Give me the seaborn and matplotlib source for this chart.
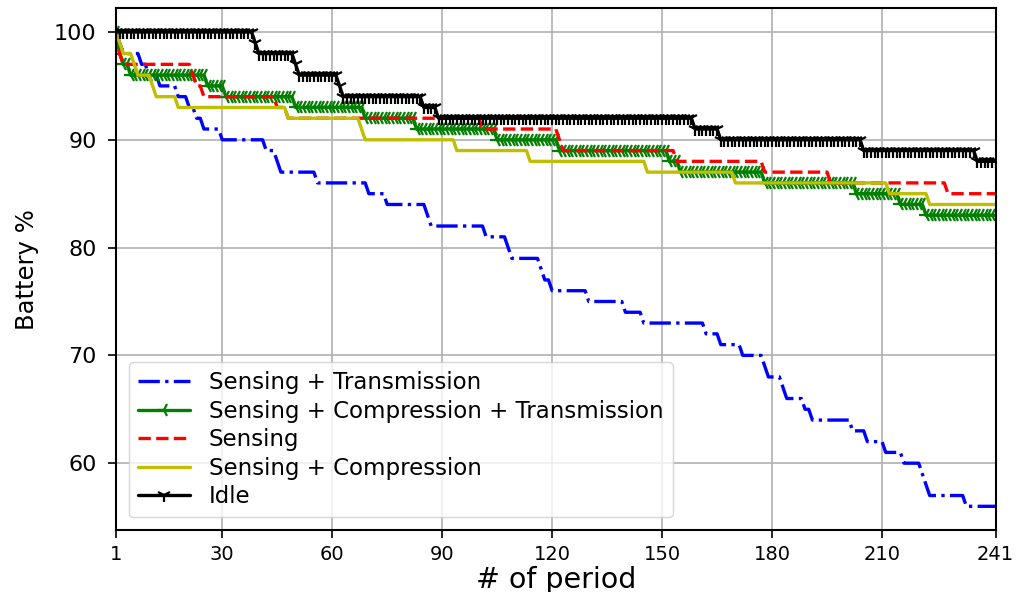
import numpy as np
import pandas as pd
import matplotlib
matplotlib.use("Agg")
import matplotlib.pyplot as plt
import seaborn as sns

# Battery level per period, stored as (level, last period at that level) runs
periods = np.arange(1, 242)

tx_levels = [100, 99, 98, 97, 96, 95, 94, 93, 92, 91, 90, 89, 88, 87, 86, 85, 84, 83, 82, 81,
             80, 79, 78, 77, 76, 75, 74, 73, 72, 71, 70, 69, 68, 67, 66, 65, 64, 63, 62, 61,
             60, 59, 58, 57, 56]
tx_ends = [1, 2, 7, 9, 12, 17, 20, 22, 24, 29, 41, 44, 45, 55, 69, 74, 85, 86, 101, 107,
           108, 116, 117, 119, 129, 139, 144, 161, 165, 171, 177, 178, 182, 183, 188, 190, 201, 205, 210, 215,
           220, 221, 222, 232, 241]

cmp_tx_levels = [100, 98, 97, 96, 95, 94, 93, 92, 91, 90, 89, 88, 87, 86, 85, 84, 83]
cmp_tx_ends = [1, 2, 4, 25, 30, 49, 68, 82, 104, 121, 151, 154, 177, 202, 214, 221, 241]

sense_levels = [100, 98, 97, 96, 95, 94, 93, 92, 91, 90, 89, 88, 87, 86, 85]
sense_ends = [1, 2, 21, 22, 24, 44, 47, 100, 121, 122, 153, 177, 195, 227, 241]

cmp_levels = [100, 99, 98, 97, 96, 95, 94, 93, 92, 91, 90, 89, 88, 87, 86, 85, 84]
cmp_ends = [1, 2, 5, 6, 10, 11, 17, 47, 67, 68, 93, 113, 145, 169, 211, 222, 241]

idle_levels = [100, 99, 98, 97, 96, 95, 94, 93, 92, 91, 90, 89, 88]
idle_ends = [38, 39, 49, 50, 61, 62, 84, 88, 158, 165, 204, 235, 241]

series_names = ["Sensing + Transmission",
                "Sensing + Compression + Transmission",
                "Sensing",
                "Sensing + Compression",
                "Idle"]
x_ticks = [1, 30, 60, 90, 120, 150, 180, 210, 241]
y_ticks = [60, 70, 80, 90, 100]


def expand(levels, ends):
    counts = np.diff(np.concatenate([[0], ends]))
    return np.repeat(levels, counts)


runs = [(tx_levels, tx_ends), (cmp_tx_levels, cmp_tx_ends), (sense_levels, sense_ends),
        (cmp_levels, cmp_ends), (idle_levels, idle_ends)]

styles = [
    dict(color="#0000ff", linestyle="-."),
    dict(color="#008000", linestyle="-", marker="3", markersize=10, markeredgewidth=1.6,
         markeredgecolor="#008000", markerfacecolor="#008000"),
    dict(color="#ff0000", linestyle="--"),
    dict(color="#bfbf00", linestyle="-"),
    dict(color="#000000", linestyle="-", marker="1", markersize=10, markeredgewidth=1.6,
         markeredgecolor="#000000", markerfacecolor="#000000"),
]

sns.set_theme(style="ticks")
plt.rcParams["font.family"] = ["DejaVu Sans"]
plt.rcParams["text.color"] = "black"
plt.rcParams["axes.labelcolor"] = "black"
plt.rcParams["xtick.color"] = "black"
plt.rcParams["ytick.color"] = "black"

fig = plt.figure(figsize=(10.19, 5.92), dpi=100)
ax = fig.add_axes([0.1138, 0.1047, 0.8633, 0.8813])

for name, (lv, en), st in zip(series_names, runs, styles):
    df = pd.DataFrame({"period": periods, "battery": expand(lv, en)})
    sns.lineplot(data=df, x="period", y="battery", ax=ax, label=name,
                 linewidth=2.4, errorbar=None, **st)

ax.set_xlim(1, 241)
ax.set_xticks(x_ticks)
ax.set_yticks(y_ticks)
ax.grid(True, color="#b0b0b0", linewidth=1.2)
ax.set_axisbelow(True)

for sp in ax.spines.values():
    sp.set_linewidth(1.5)
    sp.set_color("black")

ax.tick_params(axis="both", direction="out", length=6, width=1.2, color="black")
ax.tick_params(axis="y", labelsize=16, pad=8)
ax.tick_params(axis="x", labelsize=14, pad=5)

ax.set_xlabel("# of period", fontsize=20.5, labelpad=1)
ax.set_ylabel("Battery %", fontsize=17.5)
ax.yaxis.set_label_coords(-0.088, 0.5)

leg = ax.legend(loc="lower left", fontsize=16.5, frameon=True, framealpha=0.8,
                edgecolor="#cccccc", fancybox=True, labelspacing=0.24,
                handlelength=2.3, borderaxespad=0.55)

fig.savefig("out.png", dpi=100)
